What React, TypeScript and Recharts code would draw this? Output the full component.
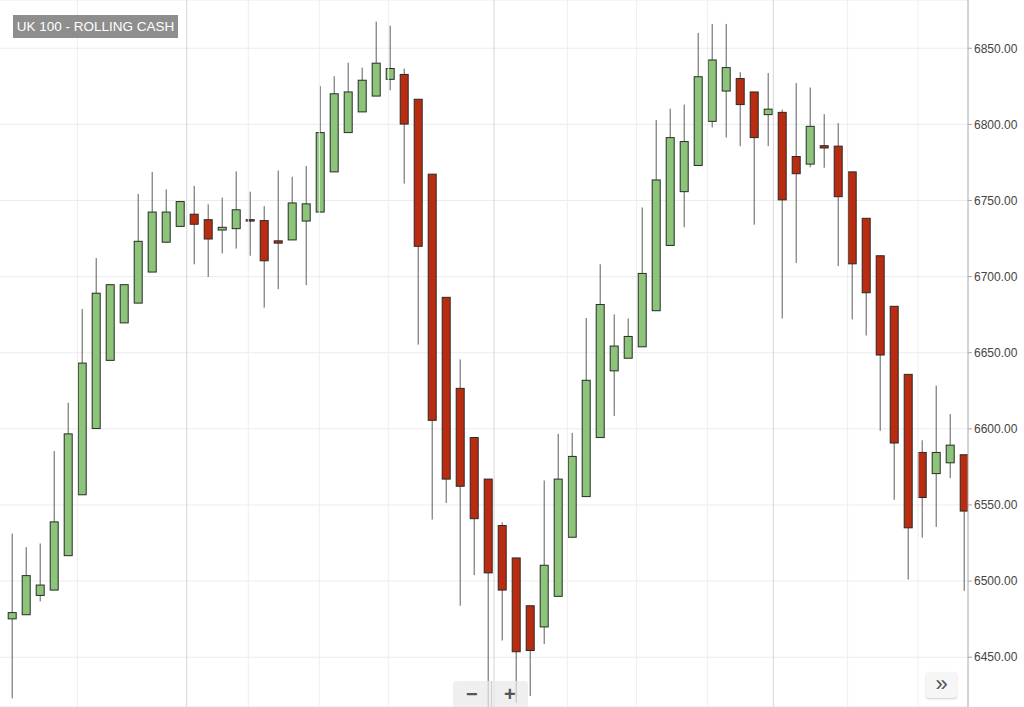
import React from "react";
import { ComposedChart, Bar, XAxis, YAxis, CartesianGrid, ReferenceLine } from "recharts";

const opens = [
  6475.2, 6477.9, 6490.6, 6494.1, 6516.7, 6556.7, 6600.2, 6645, 6669.6, 6682.6,
  6703, 6722.6, 6733, 6741, 6737.4, 6730.6, 6731.5, 6737.4, 6736.8, 6723.5,
  6724.1, 6736.5, 6742.4, 6768.8, 6794.6, 6808.2, 6818.6, 6829.6, 6832.8, 6816.5,
  6767.3, 6686.4, 6626.6, 6594.3, 6567, 6536.5, 6515.2, 6483.8, 6469.9, 6490,
  6528.8, 6555.5, 6594.3, 6638.1, 6646.4, 6653.9, 6677.6, 6720.5, 6755.8, 6773,
  6802, 6821.9, 6830.1, 6821.3, 6806.4, 6807.9, 6778.9, 6773.9, 6786, 6785.7,
  6768.8, 6738.3, 6713.7, 6680.5, 6635.8, 6584.5, 6570.6, 6577.7, 6583,
];
const highs = [
  6531.2, 6522.3, 6524.7, 6585.4, 6617.1, 6678.7, 6712.2, 6694.7, 6694.7, 6754.3,
  6768.8, 6757.3, 6749.3, 6759.6, 6747.5, 6751.9, 6769.1, 6755.8, 6746.3, 6769.7,
  6765.6, 6772.7, 6825.1, 6831.6, 6840.5, 6837.3, 6867.5, 6864.8, 6836.7, 6816.5,
  6767.3, 6686.4, 6645.6, 6594.3, 6567, 6538.6, 6515.2, 6483.8, 6566.1, 6596.7,
  6597.3, 6672.8, 6708.1, 6675.2, 6672.5, 6745.4, 6802.9, 6810.3, 6813, 6860.1,
  6866, 6866, 6834.3, 6821.3, 6833.7, 6809.7, 6827.2, 6824.2, 6806.7, 6800.8,
  6768.8, 6738.3, 6713.7, 6680.5, 6635.8, 6592.5, 6628.4, 6609.7, 6583,
];
const lows = [
  6423, 6477.9, 6486.7, 6494.1, 6516.7, 6556.7, 6600.2, 6645, 6669.6, 6682.6,
  6703, 6722.6, 6733, 6708.1, 6699.8, 6715.2, 6718.4, 6713.7, 6679.6, 6691.8,
  6724.1, 6694.4, 6742.4, 6768.8, 6794.6, 6808.2, 6818.6, 6822.4, 6761.1, 6655.3,
  6540.4, 6551.3, 6483.8, 6503.9, 6415, 6461, 6420, 6424.5, 6458.6, 6490,
  6528.8, 6555.5, 6594.3, 6608.5, 6646.4, 6653.9, 6677.6, 6720.5, 6732.4, 6773,
  6797.9, 6791.3, 6785.7, 6734.1, 6785.7, 6672.5, 6709, 6771.8, 6771.5, 6706.9,
  6671.9, 6661.3, 6598.7, 6553.4, 6501, 6528.5, 6535.6, 6567.6, 6493.6,
];
const closes = [
  6479.3, 6503.6, 6497.4, 6538.9, 6596.7, 6643.2, 6689.1, 6694.7, 6694.7, 6723.2,
  6742.4, 6742.4, 6749.3, 6734.4, 6724.7, 6732.4, 6743.9, 6736.5, 6710.4, 6722,
  6748.4, 6747.8, 6794.6, 6820.1, 6821.3, 6829, 6840.2, 6836.7, 6800.2, 6719.9,
  6605.6, 6567, 6562.3, 6541, 6505.4, 6494.1, 6453.6, 6454.4, 6510.4, 6567,
  6581.9, 6631.9, 6681.7, 6654.4, 6660.7, 6702.1, 6763.5, 6791.3, 6788.7, 6831.3,
  6842.3, 6837.3, 6813, 6791.3, 6810, 6750.4, 6767.6, 6798.7, 6784.5, 6752.5,
  6708.4, 6689.4, 6648.5, 6590.7, 6535, 6554.9, 6584.5, 6589.3, 6546,
];

const yTicks = [6450, 6500, 6550, 6600, 6650, 6700, 6750, 6800, 6850];
const weekGridX = [4.69, 16.9, 21.97, 26.9, 39.69, 44.64, 49.71, 59.71, 64.74];
const monthGridX = [12.5, 34.45, 54.4];
const chartTitle = "UK 100 - ROLLING CASH";

const data = opens.map((o, i) => ({
  idx: i,
  open: o,
  high: highs[i],
  low: lows[i],
  close: closes[i],
  range: [lows[i], highs[i]],
}));

const Candle = (props: any) => {
  const { x, y, width, height, payload } = props;
  if (!payload || x == null || y == null) return null;
  const { open, close, high, low } = payload;
  const top = Math.min(y, y + height);
  const h = Math.abs(height);
  const span = high - low;
  const k = span > 0 ? h / span : 0;
  const cx = x + width / 2;
  const yO = top + (high - open) * k;
  const yC = top + (high - close) * k;
  const bTop = Math.min(yO, yC);
  const bH = Math.max(Math.abs(yO - yC), 1);
  const up = close >= open;
  return (
    <g>
      <line x1={cx} x2={cx} y1={top} y2={top + h} stroke="#5e5e5e" strokeWidth={1} />
      <rect
        x={x + 0.5}
        y={bTop}
        width={width - 1}
        height={bH}
        fill={up ? "#8cc57a" : "#b92c0f"}
        stroke="#2a2a2a"
        strokeWidth={1}
      />
    </g>
  );
};

export default function App() {
  return (
    <div
      style={{
        position: "absolute",
        left: 0,
        top: 0,
        width: 1024,
        height: 707,
        background: "#ffffff",
        overflow: "hidden",
        fontFamily: "'Liberation Sans', Arial, sans-serif",
      }}
    >
      <ComposedChart
        width={1024}
        height={707}
        data={data}
        margin={{ top: 0, right: 0, bottom: 0, left: 0 }}
      >
        <CartesianGrid vertical={false} stroke="#ececec" />
        {weekGridX.map((v) => (
          <ReferenceLine key={"w" + v} x={v} stroke="#eeeeee" strokeWidth={1} ifOverflow="extendDomain" />
        ))}
        {monthGridX.map((v) => (
          <ReferenceLine key={"m" + v} x={v} stroke="#d6d6d6" strokeWidth={1} ifOverflow="extendDomain" />
        ))}
        <XAxis
          dataKey="idx"
          type="number"
          domain={[-0.8357, 68.307]}
          allowDataOverflow
          hide
        />
        <YAxis
          orientation="right"
          width={56}
          domain={[6417.3, 6881.7]}
          allowDataOverflow
          ticks={yTicks}
          tickFormatter={(v: number) => v.toFixed(2)}
          tickSize={4}
          tickMargin={2}
          axisLine={{ stroke: "#a8a8a8" }}
          tickLine={{ stroke: "#a8a8a8" }}
          tick={{ fill: "#444444", fontSize: 12 }}
        />
        <Bar dataKey="range" barSize={9} shape={<Candle />} isAnimationActive={false} />
      </ComposedChart>

      <div
        style={{
          position: "absolute",
          left: 13,
          top: 15,
          width: 165,
          height: 23,
          background: "#8e8e8e",
          color: "#ffffff",
          fontSize: 13.5,
          lineHeight: "23px",
          textAlign: "center",
        }}
      >
        {chartTitle}
      </div>

      <div
        style={{
          position: "absolute",
          left: 453,
          top: 681,
          width: 75,
          height: 30,
          background: "rgba(232,232,232,0.7)",
          borderRadius: 4,
          display: "flex",
          color: "#555555",
          fontWeight: "bold",
          fontSize: 20,
        }}
      >
        <div style={{ width: 38, textAlign: "center", lineHeight: "26px", borderRight: "1px solid rgba(200,200,200,0.8)" }}>−</div>
        <div style={{ width: 37, textAlign: "center", lineHeight: "26px" }}>+</div>
      </div>

      <div
        style={{
          position: "absolute",
          left: 926,
          top: 672,
          width: 31,
          height: 26,
          background: "#f6f6f6",
          borderRadius: 3,
          boxShadow: "0 1px 2px rgba(0,0,0,0.2)",
          color: "#555555",
          fontSize: 22,
          lineHeight: "24px",
          textAlign: "center",
        }}
      >
        »
      </div>
    </div>
  );
}
